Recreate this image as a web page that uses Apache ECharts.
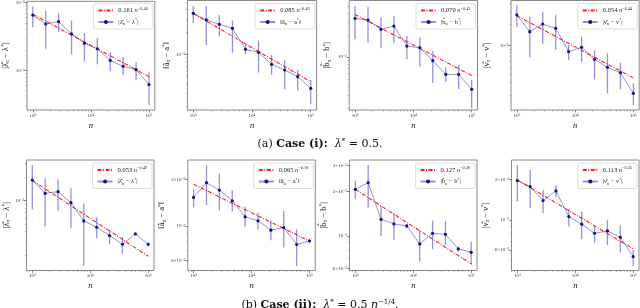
<!DOCTYPE html>
<html><head><meta charset="utf-8">
<script src="https://cdn.jsdelivr.net/npm/echarts@6/dist/echarts.min.js"></script>
<style>html,body{margin:0;padding:0;background:#fff}#c{width:640px;height:308px}</style>
</head><body><div id="c"></div>
<script>
// ---------- data ----------
const nValues = [1000, 1668, 2783, 4642, 7743, 12915, 21544, 35938, 59948, 100000];
const xTickValues = [1e3, 1e4, 1e5];

// Case (i)
const lambdaMeanA = [6.53e-3, 4.82e-3, 5.21e-3, 3.44e-3, 2.51e-3, 2.08e-3, 1.40e-3, 1.144e-3, 1.023e-3, 6.17e-4];
const lambdaLowA  = [4.31e-3, 2.08e-3, 3.64e-3, 1.71e-3, 1.355e-3, 1.225e-3, 9.67e-4, 8.45e-4, 7.14e-4, 3.08e-4];
const lambdaHighA = [8.84e-3, 7.55e-3, 6.90e-3, 5.40e-3, 3.56e-3, 2.97e-3, 1.85e-3, 1.57e-3, 1.32e-3, 9.46e-4];
const lambdaFitA  = [6.71e-3, 8.07e-4];

const aMeanA = [3.56e-3, 2.90e-3, 2.53e-3, 2.24e-3, 1.168e-3, 1.064e-3, 7.34e-4, 6.15e-4, 5.01e-4, 3.49e-4];
const aLowA  = [2.61e-3, 1.335e-3, 1.73e-3, 1.053e-3, 1.010e-3, 5.67e-4, 5.27e-4, 3.38e-4, 3.25e-4, 2.15e-4];
const aHighA = [4.47e-3, 4.47e-3, 3.38e-3, 2.84e-3, 1.406e-3, 1.527e-3, 9.80e-4, 8.39e-4, 6.15e-4, 4.52e-4];
const aFitA  = [3.54e-3, 4.27e-4];

const bMeanA = [3.40e-3, 3.23e-3, 2.40e-3, 2.67e-3, 1.417e-3, 1.344e-3, 8.90e-4, 5.77e-4, 5.77e-4, 3.59e-4];
const bLowA  = [1.75e-3, 1.575e-3, 1.316e-3, 1.575e-3, 9.29e-4, 7.36e-4, 4.43e-4, 4.58e-4, 3.59e-4, 1.966e-4];
const bHighA = [5.03e-3, 4.93e-3, 3.51e-3, 3.67e-3, 1.945e-3, 1.865e-3, 1.222e-3, 7.21e-4, 7.76e-4, 4.83e-4];
const bFitA  = [3.85e-3, 5.56e-4];

const nuMeanA = [2.72e-3, 1.578e-3, 2.025e-3, 1.759e-3, 8.23e-4, 9.47e-4, 6.41e-4, 4.94e-4, 4.15e-4, 2.12e-4];
const nuLowA  = [1.817e-3, 6.84e-4, 1.056e-3, 8.68e-4, 6.27e-4, 5.87e-4, 3.34e-4, 2.12e-4, 2.41e-4, 1.446e-4];
const nuHighA = [3.76e-3, 2.57e-3, 3.03e-3, 2.72e-3, 1.022e-3, 1.341e-3, 8.68e-4, 7.79e-4, 5.75e-4, 2.93e-4];
const nuFitA  = [2.65e-3, 3.5e-4];

// Case (ii)
const lambdaMeanB = [1.845e-3, 1.243e-3, 1.306e-3, 9.42e-4, 5.47e-4, 4.54e-4, 3.54e-4, 2.74e-4, 3.72e-4, 2.74e-4];
const lambdaLowB  = [7.74e-4, 4.63e-4, 7.43e-4, 4.40e-4, 1.441e-4, 3.27e-4, 2.77e-4, 2.06e-4, 3.61e-4, 2.56e-4];
const lambdaHighB = [2.88e-3, 1.94e-3, 1.883e-3, 1.441e-3, 9.24e-4, 6.10e-4, 4.19e-4, 3.37e-4, 3.80e-4, 2.88e-4];
const lambdaFitB  = [1.82e-3, 1.92e-4];

const aMeanB = [1.531e-2, 1.904e-2, 1.707e-2, 1.457e-2, 1.148e-2, 1.082e-2, 9.42e-3, 9.80e-3, 7.61e-3, 8.04e-3];
const aLowB  = [1.319e-2, 1.366e-2, 1.268e-2, 1.238e-2, 9.90e-3, 9.52e-3, 8.12e-3, 7.29e-3, 5.52e-3, 7.81e-3];
const aHighB = [1.724e-2, 2.474e-2, 2.165e-2, 1.707e-2, 1.333e-2, 1.225e-2, 1.082e-2, 1.256e-2, 9.52e-3, 8.20e-3];
const aFitB  = [1.86e-2, 8.0e-3];

const bMeanB = [2.073e-2, 2.301e-2, 1.297e-2, 1.206e-2, 1.169e-2, 8.82e-3, 1.042e-2, 1.026e-2, 8.16e-3, 7.74e-3];
const bLowB  = [1.774e-2, 1.565e-2, 1.0e-2, 9.39e-3, 1.127e-2, 6.70e-3, 8.12e-3, 8.69e-3, 7.83e-3, 6.36e-3];
const bHighB = [2.374e-2, 3.033e-2, 1.598e-2, 1.425e-2, 1.206e-2, 1.087e-2, 1.271e-2, 1.271e-2, 8.47e-3, 9.15e-3];
const bFitB  = [2.073e-2, 6.46e-3];

const nuMeanB = [1.956e-2, 1.766e-2, 1.390e-2, 1.640e-2, 1.058e-2, 9.29e-3, 7.96e-3, 8.29e-3, 7.44e-3, 5.35e-3];
const nuLowB  = [1.367e-2, 1.220e-2, 1.120e-2, 1.472e-2, 8.93e-3, 7.19e-3, 6.79e-3, 6.53e-3, 5.73e-3, 4.56e-3];
const nuHighB = [2.555e-2, 2.346e-2, 1.668e-2, 1.817e-2, 1.199e-2, 1.153e-2, 8.93e-3, 1.0e-2, 9.18e-3, 5.99e-3];
const nuFitB  = [1.98e-2, 6.1e-3];

const fitCoef = [0.161, 0.085, 0.070, 0.054, 0.053, 0.065, 0.127, 0.113];
const fitExp  = [-0.46, -0.46, -0.42, -0.44, -0.49, -0.18, -0.28, -0.25];

const yTickValues = [
  [1e-2, 1e-3], [1e-3], [1e-3], [1e-3],
  [1e-3], [2e-2, 1e-2, 6e-3], [3e-2, 2e-2, 1e-2, 6e-3], [2e-2, 1e-2, 6e-3]
];
// axis limits (decades, log10)
const yLimits = [
  [-3.585, -1.983], [-3.749, -2.276], [-3.729, -2.222], [-3.910, -2.361],
  [-3.901, -2.476], [-2.286, -1.574], [-2.235, -1.484], [-2.375, -1.556]
];
const xLimits = [2.9, 5.1];

// y-axis names (rich text)
const yNames = [
  '|λ\u0302{sub|n} − λ{sup|*}|', '‖â{sub|n} − a{sup|*}‖', '|b\u0302{sub|n} − b{sup|*}|', '|ν\u0302{sub|n} − ν{sup|*}|',
  '|λ\u0302{sub|n} − λ{sup|*}|', '‖â{sub|n} − a{sup|*}‖', '|b\u0302{sub|n} − b{sup|*}|', '|ν\u0302{sub|n} − ν{sup|*}|'
];
const legendDataLabels = yNames;

const panels = [
  [lambdaMeanA, lambdaLowA, lambdaHighA, lambdaFitA],
  [aMeanA, aLowA, aHighA, aFitA],
  [bMeanA, bLowA, bHighA, bFitA],
  [nuMeanA, nuLowA, nuHighA, nuFitA],
  [lambdaMeanB, lambdaLowB, lambdaHighB, lambdaFitB],
  [aMeanB, aLowB, aHighB, aFitB],
  [bMeanB, bLowB, bHighB, bFitB],
  [nuMeanB, nuLowB, nuHighB, nuFitB]
];

// ---------- layout ----------
const gridRects = [
  [26.5, 0.5, 128.3, 109.5], [187.4, 0.5, 129.2, 109.5], [349.2, 0.5, 128.3, 109.5], [511, 0.5, 128.2, 109.5],
  [26.5, 160, 127.5, 110.5], [187.8, 160, 127.5, 110.5], [349.5, 160, 127.5, 110.5], [511.5, 160, 127.5, 110.5]
];
const yNameGaps = [16, 16, 17, 19, 15, 15, 16, 19];

const FONT = "'Liberation Serif', 'DejaVu Serif', serif";
const CAPFONT = "'DejaVu Serif', 'Liberation Serif', serif";
const L = Math.log10;
const MINUS = '\u2212';

function fmtTick(v) {
  const e = Math.floor(L(v) + 1e-9);
  const m = Math.round(v / Math.pow(10, e));
  const ex = '{sup|' + (e < 0 ? MINUS + (-e) : e) + '}';
  return m === 1 ? '10' + ex : m + '×10' + ex;
}
function minorTicks(lo, hi) {
  const out = [];
  for (let e = Math.floor(lo) - 1; e <= Math.ceil(hi); e++) {
    for (let m = 2; m <= 9; m++) {
      const v = L(m) + e;
      if (v >= lo && v <= hi) out.push(v);
    }
  }
  return out;
}
const tickRich = { sup: { fontSize: 3.6, verticalAlign: 'top', fontFamily: FONT, color: '#333', lineHeight: 5 } };
const nameRich = {
  sub: { fontSize: 5.5, verticalAlign: 'bottom', fontFamily: FONT, color: '#111', lineHeight: 10 },
  sup: { fontSize: 5.5, verticalAlign: 'top', fontFamily: FONT, color: '#111', lineHeight: 10 }
};
const ERR_COLOR = 'rgba(40,40,180,0.5)';
const PT_COLOR = '#14147a';

const grids = [], xAxes = [], yAxes = [], series = [], legends = [];
const minorX = [], minorY = [];
panels.forEach((p, i) => {
  const r = gridRects[i];
  const [mean, low, high, fit] = p;
  grids.push({ left: r[0], top: r[1], width: r[2], height: r[3], show: true,
    borderColor: '#8a8a8a', borderWidth: 1, backgroundColor: '#fff' });
  xAxes.push({
    gridIndex: i, type: 'value', min: xLimits[0], max: xLimits[1], position: 'bottom',
    axisLine: { show: false }, splitLine: { show: false },
    axisTick: { show: true, length: 2.5, lineStyle: { color: '#555', width: 0.7 }, customValues: xTickValues.map(L) },
    axisLabel: { customValues: xTickValues.map(L), formatter: v => fmtTick(Math.pow(10, v)),
      fontSize: 5, margin: 3, color: '#333', fontFamily: FONT, rich: tickRich },
    name: 'n', nameLocation: 'middle', nameGap: 11,
    nameTextStyle: { fontFamily: FONT, fontStyle: 'italic', fontSize: 8.5, color: '#111' }
  });
  minorX.push({
    gridIndex: i, type: 'value', min: xLimits[0], max: xLimits[1], position: 'bottom',
    axisLine: { show: false }, splitLine: { show: false },
    axisTick: { show: true, length: 1.5, lineStyle: { color: '#777', width: 0.5 }, customValues: minorTicks(xLimits[0], xLimits[1]) },
    axisLabel: { show: false }
  });
  const yl = yLimits[i];
  yAxes.push({
    gridIndex: i, type: 'value', min: yl[0], max: yl[1], position: 'left',
    axisLine: { show: false }, splitLine: { show: false },
    axisTick: { show: true, length: 2.5, lineStyle: { color: '#555', width: 0.7 }, customValues: yTickValues[i].map(L) },
    axisLabel: { customValues: yTickValues[i].map(L), formatter: v => fmtTick(Math.pow(10, v)),
      fontSize: 5, margin: 2.5, color: '#333', fontFamily: FONT, rich: tickRich },
    name: yNames[i], nameLocation: 'middle', nameGap: yNameGaps[i],
    nameTextStyle: { fontFamily: FONT, fontSize: 8.5, color: '#111', rich: nameRich, lineHeight: 10 }
  });
  minorY.push({
    gridIndex: i, type: 'value', min: yl[0], max: yl[1], position: 'left',
    axisLine: { show: false }, splitLine: { show: false },
    axisTick: { show: true, length: 1.5, lineStyle: { color: '#777', width: 0.5 }, customValues: minorTicks(yl[0], yl[1]) },
    axisLabel: { show: false }
  });

  const fitName = 'fit' + i, dataName = 'data' + i;
  series.push({
    type: 'line', name: fitName, xAxisIndex: i, yAxisIndex: i, z: 2,
    data: [[L(nValues[0]), L(fit[0])], [L(nValues[nValues.length - 1]), L(fit[1])]],
    symbol: 'none', silent: true,
    lineStyle: { color: '#ff1f1f', width: 1.1, type: [4, 1.5, 1, 1.5] },
    itemStyle: { color: '#ff1f1f' }
  });
  series.push({
    type: 'custom', name: 'err' + i, xAxisIndex: i, yAxisIndex: i, z: 3,
    coordinateSystem: 'cartesian2d', silent: true,
    encode: { x: 0, y: [1, 2] },
    data: nValues.map((n, k) => [L(n), L(low[k]), L(high[k])]),
    renderItem: (params, api) => {
      const a = api.coord([api.value(0), api.value(1)]);
      const b = api.coord([api.value(0), api.value(2)]);
      return { type: 'line', shape: { x1: a[0], y1: a[1], x2: b[0], y2: b[1] },
        style: { stroke: ERR_COLOR, lineWidth: 1.3 } };
    }
  });
  series.push({
    type: 'line', name: dataName, xAxisIndex: i, yAxisIndex: i, z: 4,
    data: nValues.map((n, k) => [L(n), L(mean[k])]),
    symbol: 'circle', symbolSize: 3.2, silent: true,
    lineStyle: { color: ERR_COLOR, width: 1 },
    itemStyle: { color: PT_COLOR }
  });
  const coefTxt = fitCoef[i].toFixed(3);
  const expTxt = MINUS + Math.abs(fitExp[i]).toFixed(2);
  const labels = {};
  labels[fitName] = coefTxt + ' {it|n}{sup|' + expTxt + '}';
  labels[dataName] = legendDataLabels[i];
  legends.push({
    data: [{ name: fitName, itemStyle: { opacity: 0 } }, dataName], orient: 'vertical',
    right: 640 - (r[0] + r[2]) + 2, top: r[1] + 3,
    itemWidth: 15, itemHeight: 5, itemGap: 3.5, padding: [3, 5, 3, 4],
    backgroundColor: 'rgba(255,255,255,0.85)', borderColor: '#d4d4d4', borderWidth: 0.8, borderRadius: 2,
    selectedMode: false,
    formatter: name => labels[name],
    textStyle: { fontFamily: FONT, fontSize: 6.5, color: '#222', lineHeight: 8,
      rich: {
        it: { fontStyle: 'italic', fontSize: 6.5, fontFamily: FONT, color: '#222' },
        sup: { fontSize: 4.3, verticalAlign: 'top', fontFamily: FONT, color: '#222', lineHeight: 8 },
        sub: { fontSize: 4.3, verticalAlign: 'bottom', fontFamily: FONT, color: '#222', lineHeight: 8 }
      } }
  });
});

const capRich = {
  b: { fontWeight: 'bold', fontSize: 11, fontFamily: CAPFONT, color: '#111' },
  m: { fontStyle: 'italic', fontSize: 11, fontFamily: CAPFONT, color: '#111' },
  sup: { fontSize: 7, verticalAlign: 'top', fontFamily: CAPFONT, color: '#111', lineHeight: 13 }
};
const option = {
  animation: false,
  backgroundColor: '#fff',
  title: [
    { text: '(a) {b|Case (i):}  {m|λ}{sup|*} = 0.5.', left: 'center', top: 132.5,
      textStyle: { fontFamily: CAPFONT, fontSize: 11, fontWeight: 'normal', color: '#111', lineHeight: 13, rich: capRich } },
    { text: '(b) {b|Case (ii):}  {m|λ}{sup|*} = 0.5 {m|n}{sup|−1/4}.', left: 'center', top: 294,
      textStyle: { fontFamily: CAPFONT, fontSize: 11, fontWeight: 'normal', color: '#111', lineHeight: 13, rich: capRich } }
  ],
  grid: grids,
  xAxis: xAxes.concat(minorX),
  yAxis: yAxes.concat(minorY),
  legend: legends,
  series: series
};
const chart = echarts.init(document.getElementById('c'), null, { renderer: 'canvas' });
chart.setOption(option);
</script>
</body></html>
